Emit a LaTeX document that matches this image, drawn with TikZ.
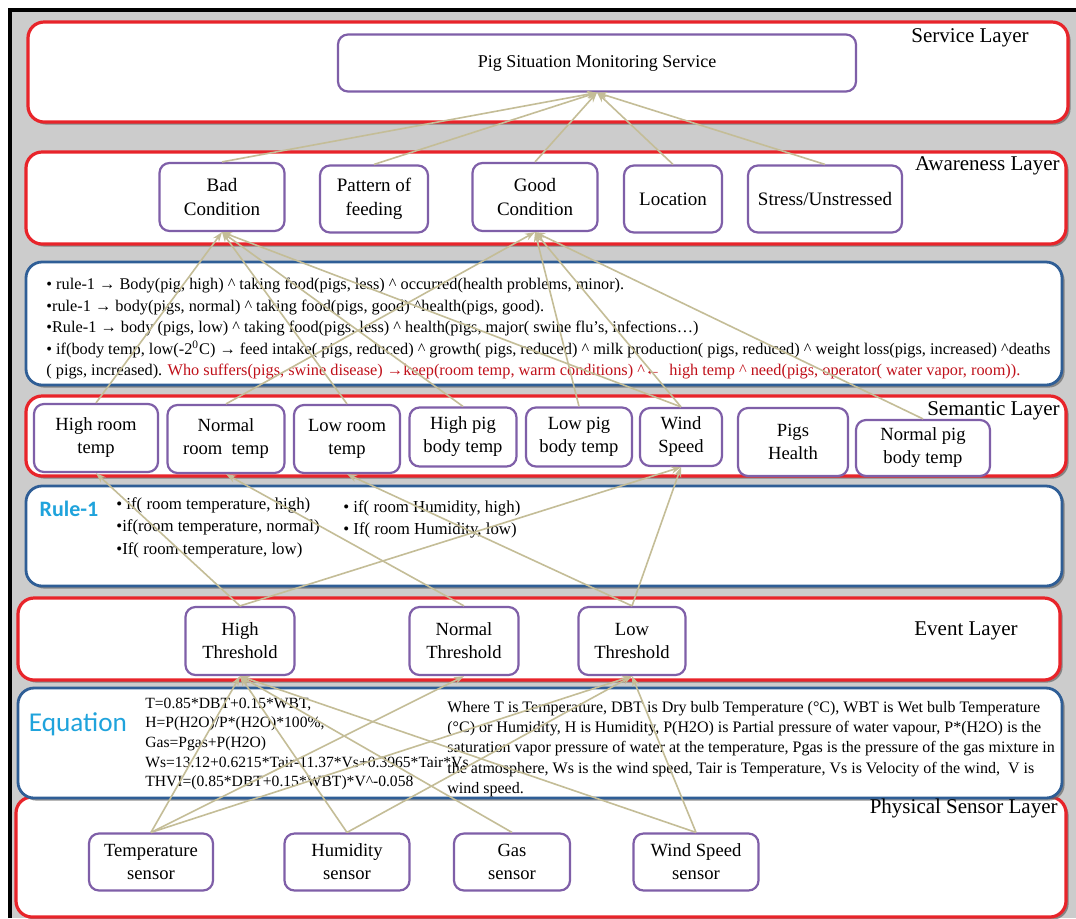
\documentclass[tikz,border=0pt]{standalone}
\usepackage{fontspec}
\setmainfont{Liberation Serif}
\newfontfamily\calibri{Carlito}
\usetikzlibrary{arrows.meta,shadows}
\definecolor{layred}{HTML}{E8242A}
\definecolor{layblue}{HTML}{2F5E96}
\definecolor{nodepurple}{HTML}{7F5FA8}
\definecolor{conn}{HTML}{C4BD97}
\definecolor{eqblue}{HTML}{1FA3DC}
\definecolor{rulered}{HTML}{C0101A}
\newcommand{\hatc}{\textasciicircum{}}
\begin{document}
\begin{tikzpicture}[x=0.5pt,y=-0.5pt,
  shad/.style={drop shadow={shadow xshift=1.3pt,shadow yshift=-1.3pt,fill=black!60,opacity=0.7}},
  layer/.style={draw=layred,line width=1.6pt,rounded corners=8pt,fill=white,shad,inner sep=0pt},
  bluebox/.style={draw=layblue,line width=1.4pt,rounded corners=8pt,fill=white,shad,inner sep=0pt},
  item/.style={draw=nodepurple,line width=1.1pt,rounded corners=5pt,fill=white,align=center,
    inner sep=0pt,font=\fontsize{9.3}{11.5}\selectfont},
  aitem/.style={item,font=\fontsize{9.5}{12}\selectfont},
  link/.style={draw=conn,line width=0.8pt,-{Stealth[length=5pt,width=3.6pt]}},
  laylabel/.style={font=\fontsize{10.5}{12}\selectfont,inner sep=0pt}
]
\useasboundingbox (0,0) rectangle (1076,918);
\fill[white] (0,0) rectangle (1076,918);
\fill[black!20] (10,10) rectangle (1076,918);
\draw[black,line width=1.8pt] (10,918) -- (10,10) -- (1076,10);

% ---- layers ----
\node[layer,minimum width=520pt,minimum height=50pt] (servL) at (548,72) {};
\node[layer,minimum width=520pt,minimum height=46pt] (awL) at (546,198) {};
\node[bluebox,minimum width=518pt,minimum height=61.5pt] (rulesB) at (544,323.5) {};
\node[layer,minimum width=520pt,minimum height=40pt] (semL) at (546,436) {};
\node[bluebox,minimum width=518pt,minimum height=50pt] (rule1B) at (544,536) {};
\node[layer,minimum width=521pt,minimum height=41pt] (evL) at (539,639) {};
\node[layer,minimum width=525pt,minimum height=60pt] (senL) at (541,857) {};
\node[bluebox,minimum width=522pt,minimum height=55pt] (eqB) at (540,743) {};

% ---- layer labels ----
\node[laylabel] (lServ) at (970,38) {Service Layer};
\node[laylabel,anchor=east] (lAw) at (1060,166) {Awareness Layer};
\node[laylabel,anchor=east] (lSem) at (1060,411) {Semantic Layer};
\node[laylabel] (lEv) at (966,631) {Event Layer};
\node[laylabel,anchor=east] (lSen) at (1058,808) {Physical Sensor Layer};

% ---- service ----
\node[item,font=\fontsize{9}{11}\selectfont,minimum width=259pt,minimum height=28.5pt] (psm) at (597,63) {Pig Situation Monitoring Service};

% ---- awareness ----
\node[aitem,minimum width=62.5pt,minimum height=34pt] (bad) at (222,197) {Bad\\Condition};
\node[aitem,minimum width=54pt,minimum height=33.5pt] (pattern) at (374,199) {Pattern of\\feeding};
\node[aitem,minimum width=62.5pt,minimum height=34pt] (good) at (535,197) {Good\\Condition};
\node[aitem,minimum width=49pt,minimum height=33.5pt] (loc) at (673,199) {Location};
\node[aitem,minimum width=77pt,minimum height=33.5pt] (stress) at (825,199) {Stress/Unstressed};

% ---- rules text ----
\node[anchor=west,align=left,inner sep=0pt,font=\fontsize{8.15}{10.75}\selectfont] (rules) at (46,329) {%
• rule-1 → Body(pig, high) \hatc\ taking food(pigs, less) \hatc\ occurred(health problems, minor).\\
•rule-1 → body(pigs, normal) \hatc\ taking food(pigs, good) \hatc health(pigs, good).\\
•Rule-1 → body (pigs, low) \hatc\ taking food(pigs, less) \hatc\ health(pigs, major( swine flu’s, infections…)\\
• if(body temp, low(-2\textsuperscript{0}C) → feed intake( pigs, reduced) \hatc\ growth( pigs, reduced) \hatc\ milk production( pigs, reduced) \hatc\ weight loss(pigs, increased) \hatc deaths\\
( pigs, increased). {\color{rulered}Who suffers(pigs, swine disease) →keep(room temp, warm conditions) \hatc ←\ \ high temp \hatc\ need(pigs, operator( water vapor, room)).}};

% ---- semantic ----
\node[item,minimum width=62pt,minimum height=34pt] (highroom) at (96,438) {High room\\temp};
\node[item,minimum width=58.5pt,minimum height=34pt] (normalroom) at (226,439) {Normal\\room\ \ temp};
\node[item,minimum width=53pt,minimum height=34pt] (lowroom) at (347,439) {Low room\\temp};
\node[item,minimum width=53.5pt,minimum height=29.5pt] (highpig) at (463,437) {High pig\\body temp};
\node[item,minimum width=53pt,minimum height=29.5pt] (lowpig) at (579,437) {Low pig\\body temp};
\node[item,minimum width=41pt,minimum height=29pt] (wind) at (681,437) {Wind\\Speed};
\node[item,minimum width=55pt,minimum height=34pt] (health) at (793,442) {Pigs\\Health};
\node[item,minimum width=67pt,minimum height=28pt] (normalpig) at (923,448) {Normal pig\\body temp};

% ---- rule-1 ----
\node[font=\calibri\bfseries\fontsize{11}{13}\selectfont,text=eqblue,inner sep=0pt] (r1lab) at (69,509) {Rule-1};
\node[anchor=north west,align=left,inner sep=0pt,font=\fontsize{8.4}{11.25}\selectfont] (r1a) at (116,497) {%
• if( room temperature, high)\\•if(room temperature, normal)\\•If( room temperature, low)};
\node[anchor=north west,align=left,inner sep=0pt,font=\fontsize{8.4}{11.25}\selectfont] (r1b) at (343,500) {%
• if( room Humidity, high)\\• If( room Humidity, low)};

% ---- event ----
\node[item,minimum width=54.5pt,minimum height=34pt] (highth) at (240,641) {High\\Threshold};
\node[item,minimum width=54.5pt,minimum height=34pt] (normalth) at (464,641) {Normal\\Threshold};
\node[item,minimum width=53.5pt,minimum height=34pt] (lowth) at (632,641) {Low\\Threshold};

% ---- equation ----
\node[font=\calibri\fontsize{13.6}{15}\selectfont,text=eqblue,inner sep=0pt] (eqlab) at (78,724) {Equation};
\node[anchor=west,align=left,inner sep=0pt,font=\fontsize{7.8}{9.8}\selectfont] (eqs) at (145,744) {%
T=0.85*DBT+0.15*WBT,\\H=P(H2O)/P*(H2O)*100\%,\\Gas=Pgas+P(H2O)\\Ws=13.12+0.6215*Tair-11.37*Vs+0.3965*Tair*Vs\\THVI=(0.85*DBT+0.15*WBT)*V\hatc-0.058};
\node[anchor=west,align=left,inner sep=0pt,font=\fontsize{8}{10.2}\selectfont] (desc) at (447,749) {%
Where T is Temperature, DBT is Dry bulb Temperature (°C), WBT is Wet bulb Temperature\\
(°C) or Humidity, H is Humidity, P(H2O) is Partial pressure of water vapour, P*(H2O) is the\\
saturation vapor pressure of water at the temperature, Pgas is the pressure of the gas mixture in\\
the atmosphere, Ws is the wind speed, Tair is Temperature, Vs is Velocity of the wind,\ \ V is\\
wind speed.};

% ---- sensors ----
\node[item,minimum width=62pt,minimum height=28.5pt] (tempS) at (151,862) {Temperature\\sensor};
\node[item,minimum width=62.5pt,minimum height=28.5pt] (humS) at (347,862) {Humidity\\sensor};
\node[item,minimum width=58pt,minimum height=28.5pt] (gasS) at (512,862) {Gas\\sensor};
\node[item,minimum width=62.5pt,minimum height=28.5pt] (windS) at (696,862) {Wind Speed\\sensor};

% ---- connectors ----
\foreach \n in {bad,pattern,good,loc,stress} \draw[link] (\n.north) -- (psm.south);
\foreach \a/\b in {highroom/bad,lowroom/bad,highpig/bad,wind/bad,normalroom/good,lowpig/good,wind/good,normalpig/good}
  \draw[link] (\a.north) -- (\b.south);
\foreach \a/\b in {highth/highroom,normalth/normalroom,lowth/lowroom,highth/wind,lowth/wind}
  \draw[link] (\a.north) -- (\b.south);
\foreach \a/\b in {tempS/highth,tempS/normalth,tempS/lowth,humS/highth,humS/lowth,gasS/highth,windS/highth,windS/lowth}
  \draw[link] (\a.north) -- (\b.south);
\end{tikzpicture}
\end{document}
